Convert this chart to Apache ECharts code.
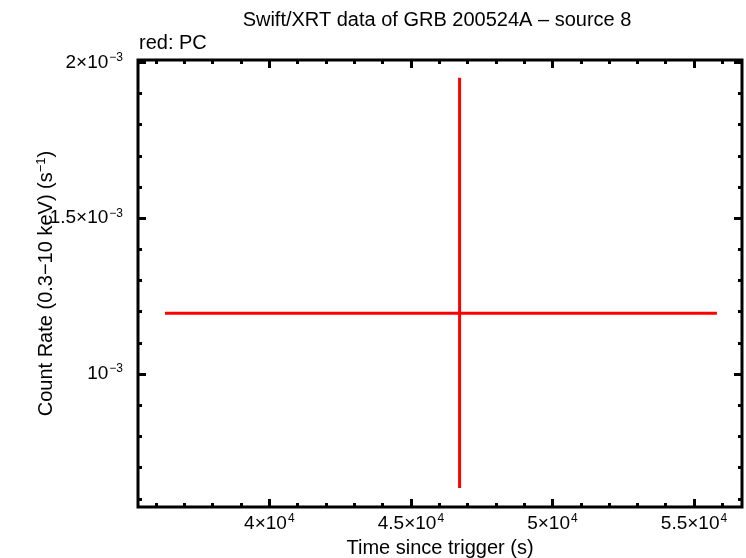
<!DOCTYPE html>
<html>
<head>
<meta charset="utf-8">
<script src="https://cdn.jsdelivr.net/npm/echarts@6/dist/echarts.min.js"></script>
<style>html,body{margin:0;padding:0;background:#fff}#c{width:746px;height:558px}</style>
</head>
<body>
<div id="c"></div>
<script>
// ---- data ----
var pointTime = [46720];
var pointRate = [1.1955e-3];
var timeLow = [36314];
var timeHigh = [55809];
var rateLow = [0.6346e-3];
var rateHigh = [1.9506e-3];

var xMajorTicks = [40000, 45000, 50000, 55000];
var xMajorLabelMant = ['4×10', '4.5×10', '5×10', '5.5×10'];
var xMajorLabelExp = ['4', '4', '4', '4'];
var xMinorTicks = [36000, 37000, 38000, 39000, 41000, 42000, 43000, 44000, 46000, 47000, 48000, 49000, 51000, 52000, 53000, 54000, 56000];

var yMajorTicks = [0.001, 0.0015, 0.002];
var yMajorLabelMant = ['10', '1.5×10', '2×10'];
var yMajorLabelExp = ['−3', '−3', '−3'];
var yMinorTicks = [0.0006, 0.0007, 0.0008, 0.0009, 0.0011, 0.0012, 0.0013, 0.0014, 0.0016, 0.0017, 0.0018, 0.0019];

var xMin = 35360, xMax = 56696;
var yMin = 0.5737e-3, yMax = 2.0074e-3;

var FONT = '"Liberation Sans", Arial, Helvetica, sans-serif';

var rows = pointTime.map(function (t, i) {
  return [t, pointRate[i], timeLow[i], timeHigh[i], rateLow[i], rateHigh[i]];
});

function nearestIdx(arr, v) {
  var best = 0, d = Infinity;
  for (var i = 0; i < arr.length; i++) {
    var dd = Math.abs(arr[i] - v);
    if (dd < d) { d = dd; best = i; }
  }
  return best;
}

var rich = {
  m: { fontSize: 19, fontFamily: FONT, color: '#000', lineHeight: 22 },
  s: { fontSize: 12, fontFamily: FONT, color: '#000', lineHeight: 13, verticalAlign: 'top', padding: [0, 0, 0, 1] }
};

function xAxisDef(pos, values, len, labels) {
  return {
    type: 'value', position: pos, min: xMin, max: xMax, offset: 0,
    axisLine: { show: false },
    splitLine: { show: false },
    axisTick: { show: true, inside: true, length: len, customValues: values,
      lineStyle: { color: '#000', width: 3 } },
    axisLabel: labels ? {
      show: true, margin: 6, customValues: xMajorTicks, rich: rich,
      formatter: function (v) {
        var i = nearestIdx(xMajorTicks, v);
        return '{m|' + xMajorLabelMant[i] + '}{s|' + xMajorLabelExp[i] + '}';
      }
    } : { show: false },
    name: labels ? 'Time since trigger (s)' : '',
    nameLocation: 'middle', nameGap: 31, nameMoveOverlap: false,
    nameTextStyle: { fontSize: 20, fontFamily: FONT, color: '#000' }
  };
}

function yAxisDef(pos, values, len, labels) {
  return {
    type: 'value', position: pos, min: yMin, max: yMax, offset: 0,
    axisLine: { show: false },
    splitLine: { show: false },
    axisTick: { show: true, inside: true, length: len, customValues: values,
      lineStyle: { color: '#000', width: 3 } },
    axisLabel: labels ? {
      show: true, margin: 15, customValues: yMajorTicks, rich: rich,
      formatter: function (v) {
        var i = nearestIdx(yMajorTicks, v);
        return '{m|' + yMajorLabelMant[i] + '}{s|' + yMajorLabelExp[i] + '}';
      }
    } : { show: false },
    name: labels ? '{n|Count Rate (0.3−10 keV) (s}{e|−1}{n|)}' : '',
    nameLocation: 'middle', nameGap: 81, nameRotate: 90, nameMoveOverlap: false,
    nameTextStyle: {
      fontSize: 20, fontFamily: FONT, color: '#000',
      rich: {
        n: { fontSize: 20, fontFamily: FONT, color: '#000', lineHeight: 22 },
        e: { fontSize: 13, fontFamily: FONT, color: '#000', lineHeight: 14, verticalAlign: 'top' }
      }
    }
  };
}

var chart = echarts.init(document.getElementById('c'), null, { renderer: 'canvas' });
chart.setOption({
  animation: false,
  backgroundColor: '#fff',
  grid: { left: 138, right: 4, top: 60, bottom: 51, outerBoundsMode: 'none', containLabel: false,
    show: true, borderColor: '#000', borderWidth: 3, backgroundColor: 'transparent' },
  xAxis: [
    xAxisDef('bottom', xMajorTicks, 8, true),
    xAxisDef('bottom', xMinorTicks, 4, false),
    xAxisDef('top', xMajorTicks, 8, false),
    xAxisDef('top', xMinorTicks, 4, false)
  ],
  yAxis: [
    yAxisDef('left', yMajorTicks, 8, true),
    yAxisDef('left', yMinorTicks, 4, false),
    yAxisDef('right', yMajorTicks, 8, false),
    yAxisDef('right', yMinorTicks, 4, false)
  ],
  graphic: [
    { type: 'text', x: 437, y: 20,
      style: { text: 'Swift/XRT data of GRB 200524A – source 8', textAlign: 'center', textVerticalAlign: 'middle',
        fontSize: 20, fontFamily: FONT, fill: '#000' } },
    { type: 'text', x: 139, y: 43,
      style: { text: 'red: PC', textAlign: 'left', textVerticalAlign: 'middle',
        fontSize: 20, fontFamily: FONT, fill: '#000' } }
  ],
  series: [{
    type: 'custom',
    xAxisIndex: 0, yAxisIndex: 0,
    data: rows,
    encode: { x: [0, 2, 3], y: [1, 4, 5] },
    renderItem: function (params, api) {
      var x = api.value(0), y = api.value(1);
      var a = api.coord([api.value(2), y]);
      var b = api.coord([api.value(3), y]);
      var c = api.coord([x, api.value(4)]);
      var d = api.coord([x, api.value(5)]);
      var st = { stroke: '#ff0000', lineWidth: 3 };
      return { type: 'group', children: [
        { type: 'line', shape: { x1: a[0], y1: a[1], x2: b[0], y2: b[1] }, style: st },
        { type: 'line', shape: { x1: c[0], y1: c[1], x2: d[0], y2: d[1] }, style: st }
      ] };
    }
  }]
});
</script>
</body>
</html>
